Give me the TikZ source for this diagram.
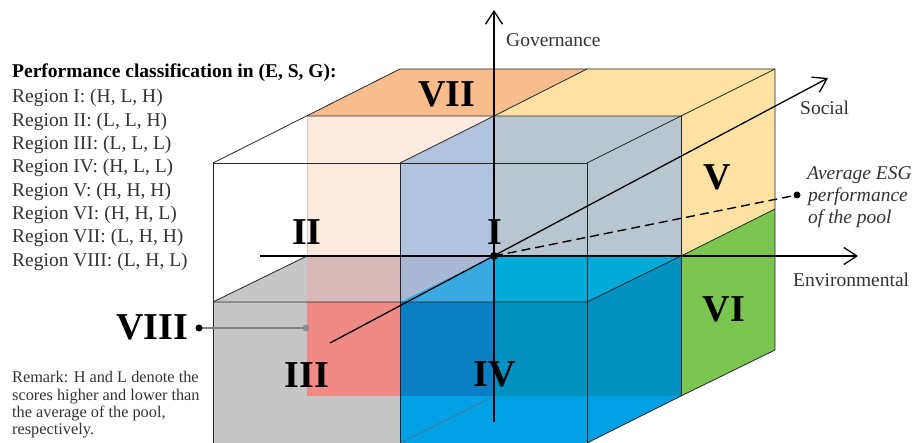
\documentclass[tikz,border=0pt]{standalone}
\usepackage{fontspec}
\setmainfont{Liberation Serif}
\usetikzlibrary{arrows.meta}
\definecolor{cOrange}{HTML}{F9BC8C}
\definecolor{cYellow}{HTML}{FDE2A4}
\definecolor{cGreen}{HTML}{7AC54F}
\definecolor{cPeach}{HTML}{FDEBE0}
\definecolor{cLav}{HTML}{B0C4E0}
\definecolor{cGrayBlue}{HTML}{B8C6CF}
\definecolor{cGray}{HTML}{C6C6C6}
\definecolor{cPinkGray}{HTML}{D8B7B7}
\definecolor{cSalmon}{HTML}{F08A84}
\definecolor{cLavGray}{HTML}{A8B7D3}
\definecolor{cLightBlue}{HTML}{3BA9E1}
\definecolor{cCyan}{HTML}{00ABDA}
\definecolor{cDarkBlue}{HTML}{0A7FC4}
\definecolor{cTeal}{HTML}{0091C0}
\definecolor{cBright}{HTML}{00A0E4}
\definecolor{cText}{HTML}{333333}
\begin{document}
\begin{tikzpicture}[x=1pt,y=-1pt,
  edge/.style={draw=black!85,line width=0.8pt},
  axisline/.style={line width=1.3pt,-{Straight Barb[length=13pt,width=17pt]}},
  lbl/.style={font=\fontsize{19.5}{23.4}\selectfont,anchor=base west,inner sep=0pt,text=cText},
  rmk/.style={font=\fontsize{16.3}{17}\selectfont,anchor=base west,inner sep=0pt,text=cText},
  big/.style={font=\fontsize{38}{40}\selectfont\bfseries,anchor=base,inner sep=0pt},
  ]
\useasboundingbox (0,0) rectangle (915,443);
% ---------- fills ----------
\fill[cOrange] (307,116)--(494,116)--(587,69)--(400,69)--cycle;
\fill[cYellow] (494,116)--(587,69)--(775,69)--(775,209)--(681,256)--(681,116)--cycle;
\fill[cGreen] (681,256)--(775,209)--(775,350)--(681,396)--cycle;
\fill[cPeach] (307,116)--(494,116)--(400,163)--(400,256)--(307,256)--cycle;
\fill[cLav] (400,163)--(494,116)--(494,256)--(400,256)--cycle;
\fill[cGrayBlue] (494,116)--(681,116)--(681,256)--(494,256)--cycle;
\fill[cGray] (213,302)--(307,256)--(307,396)--(400,396)--(400,443)--(213,443)--cycle;
\fill[cPinkGray] (307,256)--(400,256)--(400,302)--(307,302)--cycle;
\fill[cSalmon] (307,302)--(400,302)--(400,396)--(307,396)--cycle;
\fill[cLavGray] (400,256)--(494,256)--(400,302)--cycle;
\fill[cLightBlue] (494,256)--(494,302)--(400,302)--cycle;
\fill[cCyan] (494,256)--(681,256)--(587,302)--(494,302)--cycle;
\fill[cDarkBlue] (400,302)--(494,302)--(494,396)--(400,396)--cycle;
\fill[cTeal] (494,302)--(587,302)--(681,256)--(681,396)--(494,396)--cycle;
\fill[cBright] (400,396)--(681,396)--(587,443)--(400,443)--cycle;
% ---------- edges ----------
\draw[draw=cPinkGray!80,line width=0.6pt] (307,116)--(307,256);
\draw[edge] (213,443)--(213,163)--(587,163);
\draw[edge] (213,163)--(400,69)--(775,69)--(775,350)--(681,396)--(587,443);
\draw[edge] (307,116)--(681,116)--(775,69);
\draw[edge] (494,116)--(587,69);
\draw[edge] (400,163)--(494,116);
\draw[edge] (587,163)--(681,116);
\draw[edge] (681,116)--(681,396);
\draw[edge] (587,163)--(587,443);
\draw[edge] (400,163)--(400,443);
\draw[edge] (213,302)--(587,302)--(681,256);
\draw[edge] (213,302)--(307,256);
\draw[edge] (681,256)--(775,209);
\draw[draw=black!60,line width=0.5pt] (400,443)--(494,396);
% ---------- axes ----------
\coordinate (O) at (494,256);
\coordinate (gB) at (494,422);
\coordinate (gT) at (494,10);
\coordinate (eL) at (260,256);
\coordinate (eR) at (858,256);
\coordinate (sL) at (330,343);
\coordinate (sR) at (828,78);
\coordinate (avg) at (797,195);
\draw[axisline] (gB)--(gT);
\draw[axisline] (eL)--(eR);
\draw[axisline] (sL)--(sR);
\draw[line width=1.4pt,dash pattern=on 9pt off 5pt] (O)--(avg);
\fill (O) circle (4pt);
\fill (avg) circle (3.5pt);
% ---------- VIII pointer ----------
\coordinate (v8a) at (199,328);
\coordinate (v8b) at (306,328);
\draw[draw=black!50,line width=1.5pt] (v8a)--(v8b);
\fill[black!45] (v8b) circle (3.5pt);
\fill (v8a) circle (3.5pt);
% ---------- region labels ----------
\node[big] (rVII) at (447,107) {VII};
\node[big] (rII) at (307,245) {II};
\node[big] (rI) at (494.5,245) {I};
\node[big] (rV) at (717,190) {V};
\node[big] (rVI) at (724,322) {VI};
\node[big] (rIV) at (495,386) {IV};
\node[big] (rIII) at (307,387) {III};
\node[big] (rVIII) at (152,340) {VIII};
% ---------- axis labels ----------
\node[lbl] (tG) at (506,47) {Governance};
\node[lbl] (tS) at (800,115) {Social};
\node[lbl] (tE) at (793,287) {Environmental};
\node[lbl,font=\fontsize{19.5}{23.4}\selectfont\itshape] (tA1) at (807,180) {Average ESG};
\node[lbl,font=\fontsize{19.5}{23.4}\selectfont\itshape] (tA2) at (808,202) {performance};
\node[lbl,font=\fontsize{19.5}{23.4}\selectfont\itshape] (tA3) at (808,224) {of the pool};
% ---------- left legend ----------
\node[lbl,text=black,font=\fontsize{19.5}{23.4}\selectfont\bfseries] (title) at (12,78) {Performance classification in (E, S, G):};
\node[lbl] (l1) at (12,103) {Region I: (H, L, H)};
\node[lbl] (l2) at (12,127) {Region II: (L, L, H)};
\node[lbl] (l3) at (12,150) {Region III: (L, L, L)};
\node[lbl] (l4) at (12,173) {Region IV: (H, L, L)};
\node[lbl] (l5) at (12,197) {Region V: (H, H, H)};
\node[lbl] (l6) at (12,220) {Region VI: (H, H, L)};
\node[lbl] (l7) at (12,243) {Region VII: (L, H, H)};
\node[lbl] (l8) at (12,267) {Region VIII: (L, H, L)};
\node[rmk] (m1) at (12,382) {Remark: H and L denote the};
\node[rmk] (m2) at (12,400) {scores higher and lower than};
\node[rmk] (m3) at (12,417) {the average of the pool,};
\node[rmk] (m4) at (12,434) {respectively.};
\end{tikzpicture}
\end{document}
